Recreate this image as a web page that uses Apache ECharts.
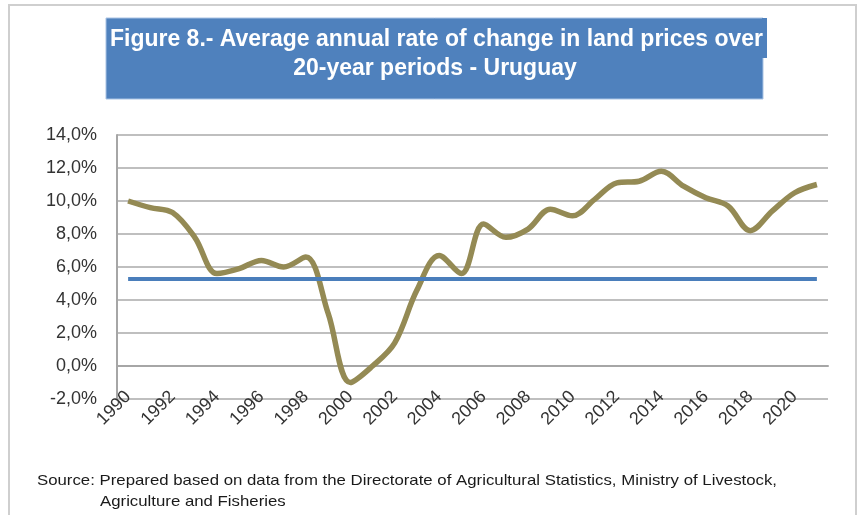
<!DOCTYPE html>
<html>
<head>
<meta charset="utf-8">
<script src="https://cdn.jsdelivr.net/npm/echarts@6/dist/echarts.min.js"></script>
<style>
  html, body { margin: 0; padding: 0; background: #fff; }
  #chart { width: 866px; height: 515px; }
</style>
</head>
<body>
<div id="chart"></div>
<script>
// years on the x axis
var years = [];
for (var y = 1990; y <= 2021; y++) years.push(String(y));

// average annual rate of change over 20-year periods (%)
var rateChange = [
  10.0, 9.6, 9.3, 7.8, 5.6, 5.9, 6.4, 6.0, 6.6, 3.2,
  -1.0, 0.0, 1.4, 4.6, 6.7, 5.6, 8.6, 7.8, 8.3, 9.5,
  9.1, 10.1, 11.1, 11.2, 11.8, 10.9, 10.2, 9.7, 8.2, 9.4,
  10.5, 11.0
];

// horizontal reference level (%)
var meanRate = 5.3;

var yTicks = { min: -2, max: 14, step: 2 };

var titleLines = [
  "Figure 8.- Average annual rate of change in land prices over",
  "20-year periods - Uruguay",
];
var sourceLines = [
  "Source: Prepared based on data from the Directorate of Agricultural Statistics, Ministry of Livestock,",
  "Agriculture and Fisheries",
];

// the original uses a narrow font that is not installed, so squeeze a normal one
var ctx = document.createElement("canvas").getContext("2d");
function fitScale(text, font, width) {
  ctx.font = font;
  return width / ctx.measureText(text).width;
}
var titleFont = "bold 23px 'Liberation Sans'";
var titleScale = fitScale(titleLines[0], titleFont, 653);
var sourceFont = "15px 'Liberation Sans'";
var sourceScale = fitScale(sourceLines[0], sourceFont, 740);

var chartDom = document.getElementById("chart");
var myChart = echarts.init(chartDom);
var option;

option = {
  animation: false,
  backgroundColor: "#fff",
  graphic: [
    {
      type: "rect",
      shape: { x: 9, y: 5, width: 847, height: 520 },
      style: { fill: "none", stroke: "#cfcfcf", lineWidth: 2 },
      z: -10,
    },
    {
      type: "rect",
      shape: { x: 106, y: 18, width: 657, height: 81 },
      style: { fill: "#4F81BD", stroke: "#a9c3e4", lineWidth: 1 },
      z: -5,
    },
    {
      type: "rect",
      shape: { x: 762, y: 18, width: 5, height: 40 },
      style: { fill: "#4F81BD" },
      z: -4,
    },
    {
      type: "text",
      x: 436.5,
      y: 39.5,
      scaleX: titleScale,
      style: {
        text: titleLines[0],
        font: titleFont,
        fill: "#fff",
        align: "center",
        verticalAlign: "middle",
      },
    },
    {
      type: "text",
      x: 435,
      y: 68.5,
      scaleX: titleScale,
      style: {
        text: titleLines[1],
        font: titleFont,
        fill: "#fff",
        align: "center",
        verticalAlign: "middle",
      },
    },
    {
      type: "text",
      x: 37,
      y: 481,
      scaleX: sourceScale,
      style: {
        text: sourceLines[0],
        font: sourceFont,
        fill: "#1a1a1a",
        align: "left",
        verticalAlign: "middle",
      },
    },
    {
      type: "text",
      x: 100,
      y: 501.5,
      scaleX: sourceScale,
      style: {
        text: sourceLines[1],
        font: sourceFont,
        fill: "#1a1a1a",
        align: "left",
        verticalAlign: "middle",
      },
    },
  ],
  grid: {
    left: 117,
    right: 38,
    top: 135,
    bottom: 116,
  },
  xAxis: {
    type: "category",
    boundaryGap: true,
    data: years,
    axisLine: { lineStyle: { color: "#a6a6a6", width: 2 } },
    axisTick: { show: false },
    axisLabel: {
      interval: 1,
      rotate: 45,
      margin: -5,
      fontFamily: "Liberation Sans",
      fontSize: 18,
      color: "#333",
    },
  },
  yAxis: {
    type: "value",
    min: yTicks.min,
    max: yTicks.max,
    interval: yTicks.step,
    axisLine: { show: true, lineStyle: { color: "#a6a6a6", width: 2 } },
    axisTick: { show: false },
    splitLine: { lineStyle: { color: "#bfbfbf", width: 2 } },
    axisLabel: {
      margin: 20,
      fontFamily: "Liberation Sans",
      fontSize: 18,
      color: "#333",
      formatter: function (v) {
        return v.toFixed(1).replace(".", ",") + "%";
      },
    },
  },
  series: [
    {
      name: "Rate of change",
      type: "line",
      data: rateChange,
      smooth: 0.35,
      symbol: "none",
      lineStyle: { color: "#948A54", width: 5.5 },
      z: 3,
      markLine: {
        silent: true,
        symbol: "none",
        label: { show: false },
        lineStyle: { color: "#4A7EBB", width: 4, type: "solid" },
        data: [
          [
            { coord: [years[0], meanRate] },
            { coord: [years[years.length - 1], meanRate] },
          ],
        ],
      },
    },
  ],
};

option && myChart.setOption(option);
</script>
</body>
</html>
